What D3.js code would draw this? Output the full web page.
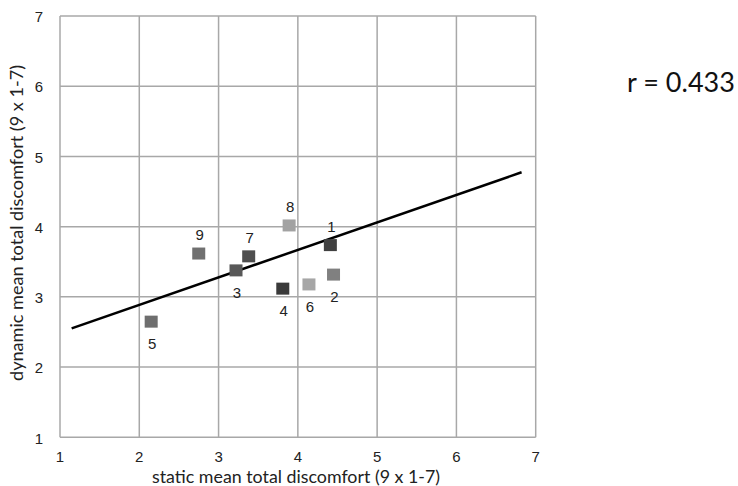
<!DOCTYPE html>
<html>
<head>
<meta charset="utf-8">
<script src="https://cdn.jsdelivr.net/npm/d3@7"></script>
<style>
html,body{margin:0;padding:0;background:#fff;}
svg{display:block;}
</style>
</head>
<body>
<svg id="chart" width="738" height="486"></svg>
<script>
const labels = ["1","2","3","4","5","6","7","8","9"];
const staticMean = [4.41, 4.45, 3.22, 3.81, 2.15, 4.14, 3.38, 3.89, 2.75];
const dynamicMean = [3.73, 3.31, 3.37, 3.11, 2.64, 3.17, 3.57, 4.01, 3.61];
const pointColors = ["#404040","#808080","#585858","#3a3a3a","#6e6e6e","#a6a6a6","#4e4e4e","#a2a2a2","#707070"];
const labelAbove = [true,false,false,false,false,false,true,true,true];
const trendX = [1.147, 6.822];
const trendY = [2.551, 4.774];
const xTicks = [1,2,3,4,5,6,7];
const yTicks = [1,2,3,4,5,6,7];
const rText = "r = 0.433";

const svg = d3.select("#chart");
const x = d3.scaleLinear().domain([1,7]).range([60,535.7]);
const y = d3.scaleLinear().domain([1,7]).range([437.3,16]);
const gridColor = "#a8a8a8";

// grid
svg.append("g").selectAll("line.v").data(xTicks).join("line")
  .attr("x1", d=>x(d)).attr("x2", d=>x(d)).attr("y1", y(1)).attr("y2", y(7))
  .attr("stroke", gridColor).attr("stroke-width", 1.5);
svg.append("g").selectAll("line.h").data(yTicks).join("line")
  .attr("x1", x(1)).attr("x2", x(7)).attr("y1", d=>y(d)).attr("y2", d=>y(d))
  .attr("stroke", gridColor).attr("stroke-width", 1.5);

// tick labels
svg.append("g").selectAll("text").data(xTicks).join("text")
  .attr("x", d=>x(d)).attr("y", 457).attr("dy","0.35em")
  .attr("text-anchor","middle").attr("font-family","Liberation Sans, Arial, sans-serif")
  .attr("font-size", 15).attr("fill","#222").text(d=>d);
svg.append("g").selectAll("text").data(yTicks).join("text")
  .attr("x", 39).attr("y", d=>y(d)+1).attr("dy","0.35em")
  .attr("text-anchor","middle").attr("font-family","Liberation Sans, Arial, sans-serif")
  .attr("font-size", 15).attr("fill","#222").text(d=>d);

// axis titles
svg.append("text").attr("x", 296).attr("y", 477).attr("dy","0.35em")
  .attr("text-anchor","middle").attr("font-family","Lato, Open Sans, sans-serif")
  .attr("font-size", 17.5).attr("fill","#222")
  .attr("textLength", 288).attr("lengthAdjust","spacingAndGlyphs")
  .text("static mean total discomfort (9 x 1-7)");
svg.append("text").attr("transform","translate(17,223) rotate(-90)").attr("dy","0.35em")
  .attr("text-anchor","middle").attr("font-family","Lato, Open Sans, sans-serif")
  .attr("font-size", 17.5).attr("fill","#222")
  .attr("textLength", 316).attr("lengthAdjust","spacingAndGlyphs")
  .text("dynamic mean total discomfort (9 x 1-7)");

// trend line
svg.append("line")
  .attr("x1", x(trendX[0])).attr("y1", y(trendY[0]))
  .attr("x2", x(trendX[1])).attr("y2", y(trendY[1]))
  .attr("stroke","#000").attr("stroke-width",2.5);

// points
const pts = labels.map((l,i)=>({l, sx:staticMean[i], dy:dynamicMean[i], c:pointColors[i], above:labelAbove[i]}));
const s = 13;
svg.append("g").selectAll("rect").data(pts).join("rect")
  .attr("x", d=>x(d.sx)-s/2).attr("y", d=>y(d.dy)-s/2)
  .attr("width", s).attr("height", s-1).attr("fill", d=>d.c);
svg.append("g").selectAll("text").data(pts).join("text")
  .attr("x", d=>x(d.sx)+1).attr("y", d=>y(d.dy) + (d.above ? -19 : 22)).attr("dy","0.35em")
  .attr("text-anchor","middle").attr("font-family","Liberation Sans, Arial, sans-serif")
  .attr("font-size", 15).attr("fill","#222").text(d=>d.l);

// r annotation
svg.append("text").attr("x", 681).attr("y", 83).attr("dy","0.35em")
  .attr("text-anchor","middle").attr("font-family","Lato, Open Sans, sans-serif")
  .attr("font-size", 27).attr("fill","#111").text(rText);
</script>
</body>
</html>
